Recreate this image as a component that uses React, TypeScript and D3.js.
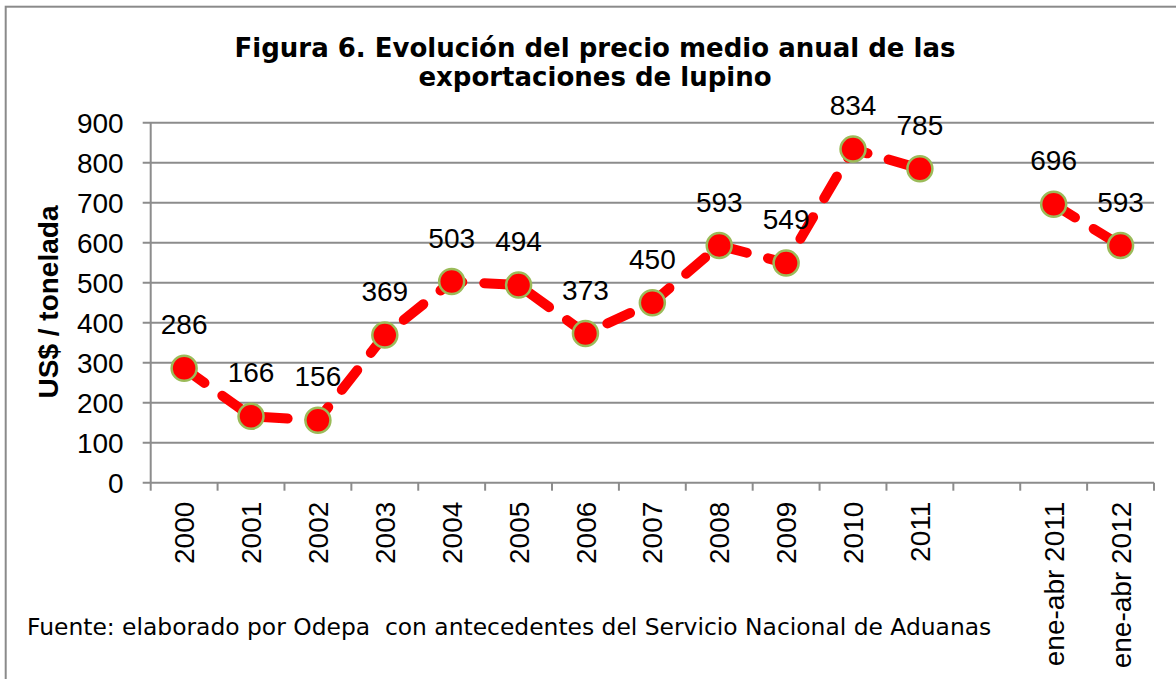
import React, { useEffect, useRef } from "react";
import * as d3 from "d3";

const categories = [
  "2000", "2001", "2002", "2003", "2004", "2005", "2006",
  "2007", "2008", "2009", "2010", "2011", "", "ene-abr 2011", "ene-abr 2012",
];
// null = empty slot between the yearly series and the partial-year pair
const prices = [286, 166, 156, 369, 503, 494, 373, 450, 593, 549, 834, 785, null, 696, 593];
const yTicks = [0, 100, 200, 300, 400, 500, 600, 700, 800, 900];

const titleLines = [
  "Figura 6. Evolución del precio medio anual de las",
  "exportaciones de lupino",
];
const yLabel = "US$ / tonelada";
const source = "Fuente: elaborado por Odepa  con antecedentes del Servicio Nacional de Aduanas";

const App = () => {
  const ref = useRef<SVGSVGElement>(null);

  useEffect(() => {
    const svg = d3.select(ref.current);
    svg.selectAll("*").remove();

    const left = 150.7, right = 1154, top = 122.7, bottom = 482.7;
    const arial = "'Liberation Sans', Arial, sans-serif";
    const verdana = "'DejaVu Sans', Verdana, sans-serif";
    const grid = "#8c8c8c";
    const fs = "28px";

    const x = d3.scaleBand<number>().domain(d3.range(categories.length)).range([left, right]);
    const y = d3.scaleLinear().domain([0, 900]).range([bottom, top]);
    const cx = (i: number) => x(i)! + x.bandwidth() / 2;

    // outer frame
    svg.append("rect")
      .attr("x", 5.7).attr("y", 6.7)
      .attr("width", 1300).attr("height", 800)
      .attr("fill", "white").attr("stroke", "#8a8a8a").attr("stroke-width", 2);

    // title
    svg.append("text")
      .attr("x", 595).attr("y", 57)
      .attr("text-anchor", "middle")
      .style("font-family", verdana).style("font-weight", "bold").style("font-size", "26px")
      .selectAll("tspan")
      .data(titleLines)
      .enter()
      .append("tspan")
      .attr("x", 595)
      .attr("dy", (d, i) => (i === 0 ? 0 : 29))
      .text((d) => d);

    // horizontal grid + y ticks
    svg.append("g")
      .selectAll("line")
      .data(yTicks.filter((t) => t > 0))
      .enter()
      .append("line")
      .attr("x1", left - 8).attr("x2", right)
      .attr("y1", (d) => y(d)).attr("y2", (d) => y(d))
      .attr("stroke", grid).attr("stroke-width", 2);

    svg.append("g")
      .selectAll("text")
      .data(yTicks)
      .enter()
      .append("text")
      .attr("x", left - 27)
      .attr("y", (d) => y(d))
      .attr("dy", "0.36em")
      .attr("text-anchor", "end")
      .style("font-family", arial).style("font-size", fs)
      .text((d) => d);

    // axes
    svg.append("line")
      .attr("x1", left).attr("x2", left).attr("y1", top).attr("y2", bottom)
      .attr("stroke", grid).attr("stroke-width", 2);
    svg.append("line")
      .attr("x1", left - 8).attr("x2", right).attr("y1", bottom).attr("y2", bottom)
      .attr("stroke", grid).attr("stroke-width", 2);

    svg.append("g")
      .selectAll("line")
      .data(d3.range(categories.length + 1))
      .enter()
      .append("line")
      .attr("x1", (i) => left + i * x.bandwidth())
      .attr("x2", (i) => left + i * x.bandwidth())
      .attr("y1", bottom).attr("y2", bottom + 8)
      .attr("stroke", grid).attr("stroke-width", 2);

    svg.append("g")
      .selectAll("text")
      .data(categories)
      .enter()
      .append("text")
      .attr("transform", (d, i) => `translate(${cx(i)},${bottom + 19}) rotate(-90)`)
      .attr("dy", "0.36em")
      .attr("text-anchor", "end")
      .style("font-family", arial).style("font-size", fs)
      .text((d) => d);

    // y axis title
    svg.append("text")
      .attr("transform", `translate(48,302) rotate(-90)`)
      .attr("dy", "0.36em")
      .attr("text-anchor", "middle")
      .style("font-family", arial).style("font-weight", "bold").style("font-size", "28px")
      .text(yLabel);

    // dashed price line, broken at the empty slot
    const line = d3.line<number | null>()
      .defined((d) => d != null)
      .x((d, i) => cx(i))
      .y((d) => y(d as number));

    svg.append("path")
      .datum(prices)
      .attr("d", line)
      .attr("fill", "none")
      .attr("stroke", "#ff0000")
      .attr("stroke-width", 10)
      .attr("stroke-linecap", "round")
      .attr("stroke-dasharray", "25 22");

    const pts = prices
      .map((v, i) => ({ v, i }))
      .filter((d) => d.v != null) as { v: number; i: number }[];

    svg.append("g")
      .selectAll("circle")
      .data(pts)
      .enter()
      .append("circle")
      .attr("cx", (d) => cx(d.i))
      .attr("cy", (d) => y(d.v))
      .attr("r", 12.5)
      .attr("fill", "#ff0000")
      .attr("stroke", "#9bbb59")
      .attr("stroke-width", 2.5);

    svg.append("g")
      .selectAll("text")
      .data(pts)
      .enter()
      .append("text")
      .attr("x", (d) => cx(d.i))
      .attr("y", (d) => y(d.v) - 34)
      .attr("text-anchor", "middle")
      .style("font-family", arial).style("font-size", fs)
      .text((d) => d.v);

    // source note
    svg.append("text")
      .attr("x", 27).attr("y", 635)
      .style("font-family", verdana).style("font-size", "23.4px")
      .style("white-space", "pre")
      .attr("xml:space", "preserve")
      .text(source);
  }, []);

  return (
    <svg
      ref={ref}
      width="1176"
      height="679"
      style={{ position: "absolute", left: 0, top: 0, display: "block" }}
    ></svg>
  );
};

export default App;
